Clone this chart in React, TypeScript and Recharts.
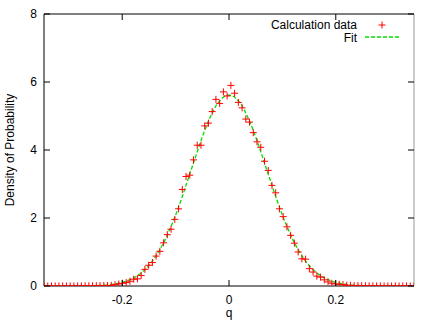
import React from 'react';
import { ComposedChart, Scatter, Line, XAxis, YAxis, Legend } from 'recharts';

// q (x) positions of the calculation data / fit samples
const qValues = [
  -0.3465, -0.3395, -0.3325, -0.3255, -0.3185, -0.3115, -0.3045, -0.2975, -0.2905, -0.2835,
  -0.2765, -0.2695, -0.2625, -0.2555, -0.2485, -0.2415, -0.2345, -0.2275, -0.2205, -0.2135,
  -0.2065, -0.1995, -0.1925, -0.1855, -0.1785, -0.1715, -0.1645, -0.1575, -0.1505, -0.1435,
  -0.1365, -0.1295, -0.1225, -0.1155, -0.1085, -0.1015, -0.0945, -0.0875, -0.0805, -0.0735,
  -0.0665, -0.0595, -0.0525, -0.0455, -0.0385, -0.0315, -0.0245, -0.0175, -0.0105, -0.0035,
  0.0035, 0.0105, 0.0175, 0.0245, 0.0315, 0.0385, 0.0455, 0.0525, 0.0595, 0.0665,
  0.0735, 0.0805, 0.0875, 0.0945, 0.1015, 0.1085, 0.1155, 0.1225, 0.1295, 0.1365,
  0.1435, 0.1505, 0.1575, 0.1645, 0.1715, 0.1785, 0.1855, 0.1925, 0.1995, 0.2065,
  0.2135, 0.2205, 0.2275, 0.2345, 0.2415, 0.2485, 0.2555, 0.2625, 0.2695, 0.2765,
  0.2835, 0.2905, 0.2975, 0.3045, 0.3115, 0.3185, 0.3255, 0.3325, 0.3395, 0.3465,
];

// "Calculation data" density values
const calcValues = [
  0, 0, 0.001, 0, 0, 0.001, 0, 0.002, 0.001, 0.002,
  0.003, 0.004, 0.006, 0.007, 0.009, 0.012, 0.015, 0.012, 0.02, 0.04,
  0.06, 0.08, 0.1, 0.14, 0.2, 0.21, 0.31, 0.49, 0.61, 0.69,
  0.88, 1.02, 1.27, 1.51, 1.67, 1.96, 2.27, 2.84, 3.22, 3.26,
  3.71, 4.14, 4.14, 4.71, 4.79, 5.13, 5.49, 5.37, 5.71, 5.59,
  5.9, 5.67, 5.4, 5.24, 4.91, 4.82, 4.51, 4.24, 4.08, 3.67,
  3.4, 2.96, 2.74, 2.27, 2.04, 1.74, 1.49, 1.26, 1.0, 0.8,
  0.79, 0.51, 0.41, 0.29, 0.26, 0.18, 0.12, 0.08, 0.06, 0.05,
  0.04, 0.02, 0.02, 0.01, 0.012, 0.008, 0.006, 0.005, 0.003, 0.002,
  0.003, 0.001, 0.001, 0, 0.001, 0, 0, 0, 0, 0,
];

// "Fit" curve values
const fitValues = [
  0, 0, 0, 0, 0, 0, 0.001, 0.001, 0.001, 0.002,
  0.003, 0.004, 0.006, 0.009, 0.012, 0.017, 0.024, 0.033, 0.045, 0.061,
  0.082, 0.108, 0.142, 0.185, 0.239, 0.304, 0.384, 0.48, 0.594, 0.73,
  0.89, 1.07, 1.27, 1.5, 1.75, 2.02, 2.32, 2.63, 2.96, 3.29,
  3.62, 3.95, 4.27, 4.58, 4.85, 5.09, 5.3, 5.45, 5.56, 5.61,
  5.61, 5.56, 5.45, 5.3, 5.09, 4.85, 4.58, 4.27, 3.95, 3.62,
  3.29, 2.96, 2.63, 2.32, 2.02, 1.75, 1.5, 1.27, 1.07, 0.89,
  0.73, 0.594, 0.48, 0.384, 0.304, 0.239, 0.185, 0.142, 0.108, 0.082,
  0.061, 0.045, 0.033, 0.024, 0.017, 0.012, 0.009, 0.006, 0.004, 0.003,
  0.002, 0.001, 0.001, 0.001, 0, 0, 0, 0, 0, 0,
];

const xTicks = [-0.2, 0, 0.2];
const yTicks = [0, 2, 4, 6, 8];
const xDomain = [-0.3465, 0.3465];
const yDomain = [0, 8];
const seriesNames = ['Calculation data', 'Fit'];
const xLabel = 'q';
const yLabel = 'Density of Probability';

const data = qValues.map((q, i) => ({ q, calc: calcValues[i], fit: fitValues[i] }));

const FONT = '"Liberation Sans", Arial, Helvetica, sans-serif';
const RED = '#ff0000';
const GREEN = '#00e000';

const LeftTick = (props: any) => {
  const { x, y, payload } = props;
  return (
    <g>
      <line x1={x} x2={x + 6} y1={y} y2={y} stroke="#000" strokeWidth={1} />
      <text x={x - 7} y={y + 4} textAnchor="end" fontSize={12} fontFamily={FONT} fill="#000">
        {payload.value}
      </text>
    </g>
  );
};

const RightTick = (props: any) => {
  const { x, y } = props;
  return <line x1={x} x2={x - 6} y1={y} y2={y} stroke="#000" strokeWidth={1} />;
};

const BottomTick = (props: any) => {
  const { x, y, payload } = props;
  return (
    <g>
      <line x1={x} x2={x} y1={y} y2={y - 6} stroke="#000" strokeWidth={1} />
      <text x={x} y={y + 18} textAnchor="middle" fontSize={12} fontFamily={FONT} fill="#000">
        {String(payload.value)}
      </text>
    </g>
  );
};

const TopTick = (props: any) => {
  const { x, y } = props;
  return <line x1={x} x2={x} y1={y} y2={y + 6} stroke="#000" strokeWidth={1} />;
};

const Cross = (props: any) => {
  const { cx, cy } = props;
  if (cx == null || cy == null) return null;
  return (
    <path
      d={`M${cx - 3.5},${cy}h7M${cx},${cy - 3.5}v7`}
      stroke={RED}
      strokeWidth={1}
      fill="none"
    />
  );
};

const LegendContent = () => (
  <svg width={436} height={50} style={{ display: 'block' }}>
    <text x={357} y={28.5} textAnchor="end" fontSize={12} fontFamily={FONT} fill="#000">
      {seriesNames[0]}
    </text>
    <path d="M378.5,25h7M382,21.5v7" stroke={RED} strokeWidth={1} fill="none" />
    <text x={357} y={41.5} textAnchor="end" fontSize={12} fontFamily={FONT} fill="#000">
      {seriesNames[1]}
    </text>
    <line x1={365} x2={399} y1={37} y2={37} stroke={GREEN} strokeWidth={1.3} strokeDasharray="4 2" />
  </svg>
);

export default function App() {
  return (
    <div style={{ position: 'absolute', left: 0, top: 0, width: 436, height: 325, background: '#fff' }}>
      <ComposedChart
        width={436}
        height={325}
        data={data}
        margin={{ top: 13, right: 21, bottom: 0, left: 0 }}
      >
        <XAxis
          xAxisId="b"
          dataKey="q"
          type="number"
          domain={xDomain}
          ticks={xTicks}
          interval={0}
          allowDataOverflow
          height={39}
          tickSize={0}
          tickMargin={0}
          tickLine={false}
          axisLine={{ stroke: '#000', strokeWidth: 1 }}
          tick={<BottomTick />}
          label={{
            content: () => (
              <text x={229} y={317} textAnchor="middle" fontSize={12} fontFamily={FONT} fill="#000">
                {xLabel}
              </text>
            ),
          }}
        />
        <XAxis
          xAxisId="t"
          dataKey="q"
          type="number"
          orientation="top"
          domain={xDomain}
          ticks={xTicks}
          interval={0}
          allowDataOverflow
          height={1}
          tickSize={0}
          tickMargin={0}
          tickLine={false}
          axisLine={{ stroke: '#000', strokeWidth: 1 }}
          tick={<TopTick />}
        />
        <YAxis
          yAxisId="l"
          type="number"
          domain={yDomain}
          ticks={yTicks}
          interval={0}
          allowDataOverflow
          width={44}
          tickSize={0}
          tickMargin={0}
          tickLine={false}
          axisLine={{ stroke: '#000', strokeWidth: 1 }}
          tick={<LeftTick />}
          label={{
            content: () => (
              <text
                x={14}
                y={150}
                transform="rotate(-90 14 150)"
                textAnchor="middle"
                fontSize={12}
                fontFamily={FONT}
                fill="#000"
              >
                {yLabel}
              </text>
            ),
          }}
        />
        <YAxis
          yAxisId="r"
          type="number"
          orientation="right"
          domain={yDomain}
          ticks={yTicks}
          interval={0}
          allowDataOverflow
          width={1}
          tickSize={0}
          tickMargin={0}
          tickLine={false}
          axisLine={{ stroke: '#999', strokeWidth: 1 }}
          tick={<RightTick />}
        />
        <Legend
          layout="vertical"
          align="center"
          verticalAlign="middle"
          wrapperStyle={{ position: 'absolute', left: 0, top: 0, width: 436, height: 50 }}
          content={() => <LegendContent />}
        />
        <Scatter
          xAxisId="b"
          yAxisId="l"
          name={seriesNames[0]}
          dataKey="calc"
          fill={RED}
          shape={<Cross />}
          isAnimationActive={false}
        />
        <Line
          xAxisId="b"
          yAxisId="l"
          name={seriesNames[1]}
          type="linear"
          dataKey="fit"
          stroke={GREEN}
          strokeWidth={1.3}
          strokeDasharray="4 2"
          dot={false}
          activeDot={false}
          isAnimationActive={false}
        />
      </ComposedChart>
    </div>
  );
}
